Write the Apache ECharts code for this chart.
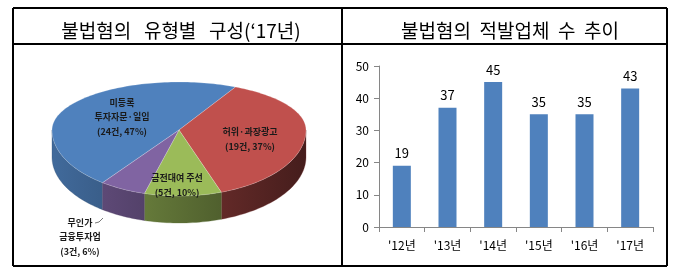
<!DOCTYPE html>
<html>
<head>
<meta charset="utf-8">
<script src="https://cdn.jsdelivr.net/npm/echarts@6/dist/echarts.min.js"></script>
<style>
html,body{margin:0;padding:0;background:#fff;}
#c{width:679px;height:278px;}
</style>
</head>
<body>
<div id="c"></div>
<script>
// ---- data ----
const pieTitle = '불법혐의   유형별   구성(‘17년)';
const barTitle = '불법혐의  적발업체  수  추이';
const pieNames = ['미등록\n투자자문·일임', '허위·과장광고', '금전대여 주선', '무인가\n금융투자업'];
const pieCounts = [24, 19, 5, 3];
const piePercents = [47, 37, 10, 6];
const barCategories = ["'12년", "'13년", "'14년", "'15년", "'16년", "'17년"];
const barValues = [19, 37, 45, 35, 35, 43];
const yMin = 0, yMax = 50, yInterval = 10;

// ---- style / layout ----
const FONT = '"Noto Sans CJK KR", "Noto Sans", sans-serif';
const pieColors = ['#4F81BD', '#C0504D', '#9BBB59', '#8064A2'];
const CX = 179, CY = 130, RX = 127, RYT = 48, RYB = 66, DEPTH = 27;
const START = 217; // degrees clockwise from 12 o'clock where the first slice starts
const labelOffsets = [[-57, -13], [71, 9], [-2, 55], [-99, 107]];

function shade(hex, f) {
  const n = parseInt(hex.slice(1), 16);
  const r = Math.round(((n >> 16) & 255) * f), g = Math.round(((n >> 8) & 255) * f), b = Math.round((n & 255) * f);
  return 'rgb(' + r + ',' + g + ',' + b + ')';
}
function pt(deg, dy) {
  const th = deg * Math.PI / 180, s = Math.sin(th), c = Math.cos(th);
  return [CX + RX * s, CY - (c > 0 ? RYT : RYB) * c + (dy || 0)];
}
function arc(a1, a2, dy) {
  const pts = [];
  const n = Math.max(2, Math.ceil((a2 - a1) / 1.5));
  for (let k = 0; k <= n; k++) pts.push(pt(a1 + (a2 - a1) * k / n, dy));
  return pts;
}
const total = pieCounts.reduce((a, b) => a + b, 0);

function renderPie(params, api) {
  const i = params.dataIndex;
  const v = api.value(0);
  let before = 0;
  for (let j = 0; j < i; j++) before += pieCounts[j];
  const a1 = START + before / total * 360;
  const a2 = a1 + v / total * 360;
  const color = pieColors[i];
  const children = [];
  // side walls (front half only)
  for (const k of [-360, 0, 360]) {
    const lo = Math.max(a1, 90 + k), hi = Math.min(a2, 270 + k);
    if (hi > lo) {
      const top = arc(lo, hi, 0);
      const bot = arc(lo, hi, DEPTH).reverse();
      children.push({
        type: 'polygon',
        shape: { points: top.concat(bot) },
        style: {
          fill: {
            type: 'linear', x: CX - RX, y: 0, x2: CX + RX, y2: 0, global: true,
            colorStops: [{ offset: 0, color: shade(color, 0.82) }, { offset: 1, color: shade(color, 0.36) }]
          },
          stroke: shade(color, 0.6), lineWidth: 0.3
        },
        z2: 1
      });
    }
  }
  // top face
  children.push({
    type: 'polygon',
    shape: { points: [[CX, CY]].concat(arc(a1, a2, 0)) },
    style: { fill: color, stroke: 'rgba(255,255,255,0.35)', lineWidth: 0.6 },
    z2: 2
  });
  // label
  const off = labelOffsets[i];
  children.push({
    type: 'text',
    x: CX + off[0], y: CY + off[1],
    style: {
      text: pieNames[i] + '\n(' + pieCounts[i] + '건, ' + piePercents[i] + '%)',
      fill: '#1a1a1a', font: 'bold 9px ' + FONT,
      align: 'center', verticalAlign: 'middle', lineHeight: 14.5
    },
    z2: 5
  });
  if (i === 3) {
    children.push({
      type: 'polyline',
      shape: { points: [[CX - 76, CY + 88], [CX - 80, CY + 92], [CX - 84, CY + 93]] },
      style: { stroke: '#555', lineWidth: 0.8, fill: null },
      z2: 5
    });
  }
  return { type: 'group', children: children };
}

const frame = [
  [13, 8, 667, 8], [13, 44, 667, 44], [13, 266, 667, 266],
  [13, 8, 13, 266], [342, 8, 342, 266], [667, 8, 667, 266]
].map(l => ({
  type: 'line', shape: { x1: l[0], y1: l[1], x2: l[2], y2: l[3] },
  style: { stroke: '#000', lineWidth: 2 }, silent: true
}));

const chart = echarts.init(document.getElementById('c'), null, { renderer: 'canvas' });
chart.setOption({
  animation: false,
  backgroundColor: '#fff',
  title: [
    { text: pieTitle, left: 176, top: 26, textAlign: 'center', textVerticalAlign: 'middle',
      textStyle: { fontFamily: FONT, fontSize: 19, fontWeight: 'normal', color: '#000' } },
    { text: barTitle, left: 505, top: 26, textAlign: 'center', textVerticalAlign: 'middle',
      textStyle: { fontFamily: FONT, fontSize: 19, fontWeight: 'normal', color: '#000' } }
  ],
  graphic: frame,
  grid: { left: 379, right: 26, top: 66, bottom: 51 },
  xAxis: {
    type: 'category', data: barCategories,
    axisLine: { lineStyle: { color: '#868686' } },
    axisTick: { show: true, length: 5, lineStyle: { color: '#868686' } },
    axisLabel: { color: '#000', fontFamily: FONT, fontSize: 12, margin: 12 }
  },
  yAxis: {
    type: 'value', min: yMin, max: yMax, interval: yInterval,
    axisLine: { show: true, lineStyle: { color: '#868686' } },
    axisTick: { show: true, length: 5, lineStyle: { color: '#868686' } },
    splitLine: { show: false },
    axisLabel: { color: '#000', fontFamily: FONT, fontSize: 12, margin: 10 }
  },
  series: [
    {
      type: 'bar', data: barValues, barWidth: 18,
      itemStyle: { color: '#4F81BD' },
      label: { show: true, position: 'top', distance: 6, color: '#000', fontFamily: FONT, fontSize: 13 }
    },
    {
      type: 'custom', coordinateSystem: 'none',
      data: pieCounts.map((v, i) => [v, i]),
      renderItem: renderPie
    }
  ]
});
</script>
</body>
</html>
